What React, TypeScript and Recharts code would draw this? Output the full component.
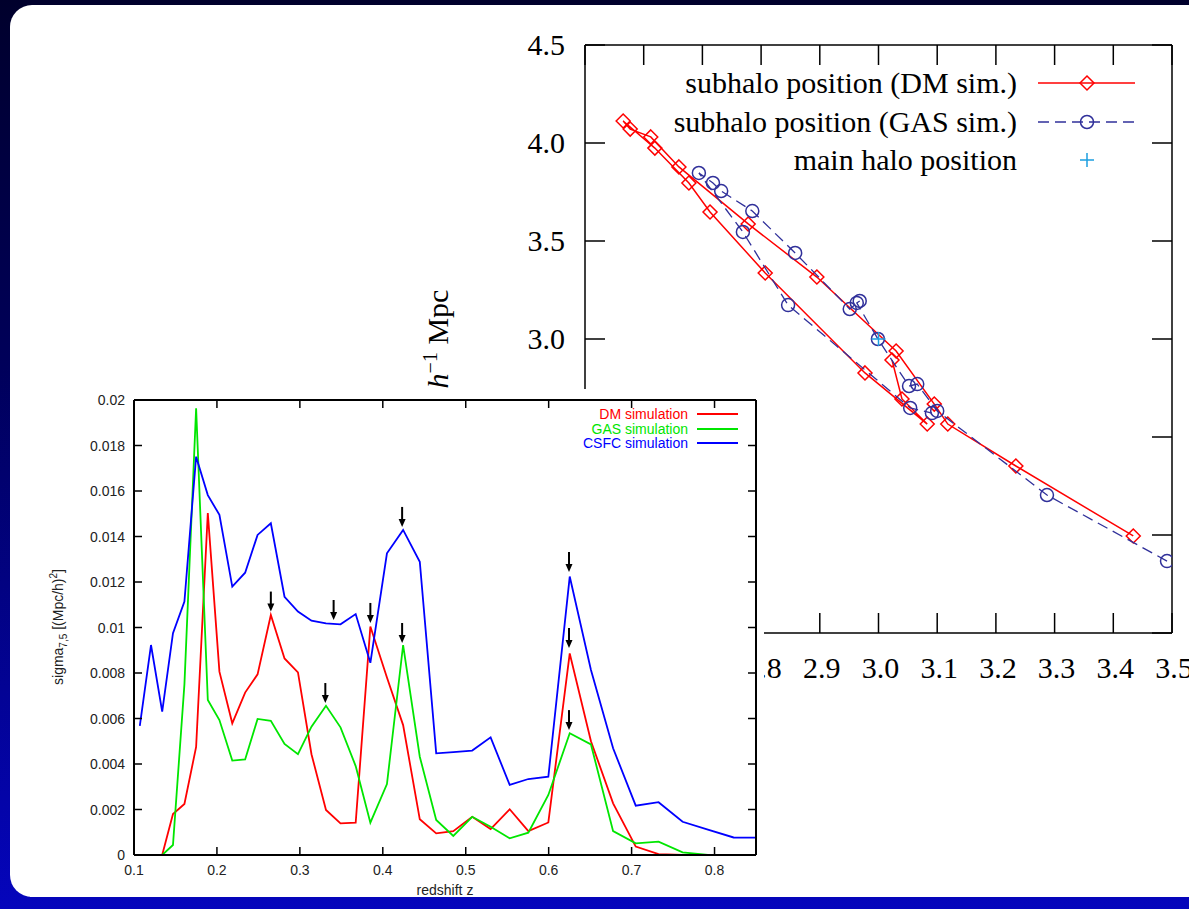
import {
  ComposedChart,
  Label,
  Legend,
  Line,
  Scatter,
  ScatterChart,
  XAxis,
  YAxis,
} from "recharts";

// lower panel: sigma_7,5 against redshift
const redshift = [
  0.107, 0.1205, 0.134, 0.147, 0.1608, 0.1749, 0.189, 0.203, 0.2185, 0.234, 0.249, 0.265, 0.2815,
  0.2977, 0.314, 0.3315, 0.349, 0.3673, 0.385, 0.405, 0.4245, 0.4446, 0.4644, 0.485, 0.5078, 0.53,
  0.553, 0.5755, 0.5996, 0.6254, 0.651, 0.6777, 0.705, 0.7325, 0.7615, 0.792, 0.823, 0.855,
];
const dmSigma = [
  0, 0, 0, 0.0018, 0.00224, 0.00475, 0.01503, 0.00806, 0.00579, 0.00714, 0.00794, 0.01055, 0.00864,
  0.00803, 0.00443, 0.00198, 0.00139, 0.00142, 0.01004, 0.0078, 0.00571, 0.00157, 0.00095, 0.00105,
  0.00168, 0.00114, 0.00201, 0.00105, 0.00143, 0.00886, 0.005, 0.00227, 0.00037, 0.00004, 0, 0, 0, 0,
];
const gasSigma = [
  0, 0, 0, 0.00044, 0.0075, 0.01964, 0.00681, 0.00593, 0.00415, 0.0042, 0.00598, 0.0059, 0.00488,
  0.00443, 0.00564, 0.00656, 0.00561, 0.00391, 0.00142, 0.00312, 0.00923, 0.00432, 0.00154, 0.00084,
  0.00168, 0.00124, 0.00073, 0.00098, 0.00264, 0.00535, 0.00486, 0.00105, 0.00051, 0.00059, 0.00012,
  0, 0, 0,
];
const csfcSigma = [
  0.00568, 0.00923, 0.0063, 0.00975, 0.01114, 0.01751, 0.01582, 0.01495, 0.0118, 0.01241, 0.01407,
  0.01458, 0.01135, 0.0107, 0.0103, 0.01018, 0.01014, 0.01059, 0.00845, 0.01326, 0.01429, 0.01289,
  0.00447, 0.00452, 0.00459, 0.00517, 0.00308, 0.00334, 0.00344, 0.01224, 0.00813, 0.00469, 0.00217,
  0.00232, 0.00146, 0.00112, 0.00077, 0.00076,
];
const zTicks = [0.1, 0.2, 0.3, 0.4, 0.5, 0.6, 0.7, 0.8];
const sigmaTicks = [0, 0.002, 0.004, 0.006, 0.008, 0.01, 0.012, 0.014, 0.016, 0.018, 0.02];
// arrow tips marking the peaks
const arrowZ = [0.265, 0.3407, 0.385, 0.3307, 0.4233, 0.4233, 0.6245, 0.6245, 0.6245];
const arrowSigma = [0.0107, 0.01033, 0.0102, 0.00668, 0.01442, 0.00932, 0.01244, 0.0091, 0.00549];

// upper panel: subhalo track
const dmTrackX = [
  3.434, 3.234, 3.118, 3.095, 3.03, 2.895, 2.778, 2.66, 2.612, 2.577, 2.565, 2.619, 2.677, 2.713,
  2.807, 2.977, 3.083, 3.04, 3.023,
];
const dmTrackY = [
  1.995, 2.352, 2.566, 2.668, 2.939, 3.316, 3.587, 3.878, 4.031, 4.071, 4.112, 3.974, 3.796, 3.648,
  3.337, 2.827, 2.566, 2.694, 2.893,
];
const gasTrackX = [
  3.4915, 3.287, 3.1, 3.066, 3.052, 2.999, 2.963, 2.968, 2.951, 2.858, 2.785, 2.732, 2.718, 2.694,
  2.769, 2.846, 3.054, 3.091,
];
const gasTrackY = [
  1.867, 2.204, 2.633, 2.77, 2.76, 3.0, 3.184, 3.194, 3.153, 3.439, 3.653, 3.755, 3.796, 3.847,
  3.546, 3.173, 2.648, 2.622,
];
const mainHaloX = [3.0];
const mainHaloY = [3.0];
const posXTicks = [2.5, 2.6, 2.7, 2.8, 2.9, 3.0, 3.1, 3.2, 3.3, 3.4, 3.5];
const posYTicks = [1.5, 2.0, 2.5, 3.0, 3.5, 4.0, 4.5];

const sigmaRows = redshift.map((z, i) => ({ z, dm: dmSigma[i], gas: gasSigma[i], csfc: csfcSigma[i] }));
const arrows = arrowZ.map((z, i) => ({ z, s: arrowSigma[i] }));
const dmTrack = dmTrackX.map((x, i) => ({ x, y: dmTrackY[i] }));
const gasTrack = gasTrackX.map((x, i) => ({ x, y: gasTrackY[i] }));
const mainHalo = mainHaloX.map((x, i) => ({ x, y: mainHaloY[i] }));

const SERIF = '"Liberation Serif", "Times New Roman", serif';
const SANS = '"Liberation Sans", Arial, Helvetica, sans-serif';
const RED = "#ff0000";
const GREEN = "#00e600";
const BLUE = "#0000ff";
const NAVY = "#30309a";
const CYAN = "#1d9fe0";

// plot boxes (svg-relative) so inward ticks can be mirrored on the far sides
const UP = { w: 860, h: 700, top: 45, right: 68, bottom: 67, left: 205, tick: 20 };
const LOW = { w: 734, h: 508, top: 11, right: 8, bottom: 42, left: 104, tick: 8 };

const Diamond = ({ cx, cy }: any) => (
  <path d={`M${cx},${cy - 7}L${cx + 7},${cy}L${cx},${cy + 7}L${cx - 7},${cy}Z`} fill="none" stroke={RED} strokeWidth={1.5} />
);
const Ring = ({ cx, cy }: any) => <circle cx={cx} cy={cy} r={6.5} fill="none" stroke={NAVY} strokeWidth={1.5} />;
const Plus = ({ cx, cy }: any) => (
  <path d={`M${cx - 7},${cy}H${cx + 7}M${cx},${cy - 7}V${cy + 7}`} stroke={CYAN} strokeWidth={1.5} />
);
const Arrow = ({ cx, cy }: any) => (
  <g>
    <line x1={cx} x2={cx} y1={cy - 20} y2={cy - 5} stroke="#000" strokeWidth={2} />
    <path d={`M${cx - 3.5},${cy - 8}L${cx + 3.5},${cy - 8}L${cx},${cy}Z`} fill="#000" />
  </g>
);

const PosXTick = ({ x, y, payload }: any) => {
  const base = y + UP.tick;
  return (
    <g>
      <line x1={x} x2={x} y1={base} y2={base - UP.tick} stroke="#000" strokeWidth={1.5} />
      <line x1={x} x2={x} y1={UP.top} y2={UP.top + UP.tick} stroke="#000" strokeWidth={1.5} />
      <text x={x + 2} y={base + 45} textAnchor="middle" fontFamily={SERIF} fontSize={30} fill="#000">
        {Number(payload.value).toFixed(1)}
      </text>
    </g>
  );
};
const PosYTick = ({ x, y, payload }: any) => {
  const base = x - UP.tick;
  const far = UP.w - UP.right;
  return (
    <g>
      <line x1={base} x2={base + UP.tick} y1={y} y2={y} stroke="#000" strokeWidth={1.5} />
      <line x1={far - UP.tick} x2={far} y1={y} y2={y} stroke="#000" strokeWidth={1.5} />
      <text x={base - 20} y={y + 10} textAnchor="end" fontFamily={SERIF} fontSize={30} fill="#000">
        {Number(payload.value).toFixed(1)}
      </text>
    </g>
  );
};
const ZTick = ({ x, y, payload }: any) => {
  const base = y + LOW.tick;
  return (
    <g>
      <line x1={x} x2={x} y1={base} y2={base - LOW.tick} stroke="#000" strokeWidth={1.5} />
      <line x1={x} x2={x} y1={LOW.top} y2={LOW.top + LOW.tick} stroke="#000" strokeWidth={1.5} />
      <text x={x} y={base + 20} textAnchor="middle" fontFamily={SANS} fontSize={14} fill="#222">
        {Number(payload.value).toFixed(1)}
      </text>
    </g>
  );
};
const SigmaTick = ({ x, y, payload }: any) => {
  const base = x - LOW.tick;
  const far = LOW.w - LOW.right;
  return (
    <g>
      <line x1={base} x2={base + LOW.tick} y1={y} y2={y} stroke="#000" strokeWidth={1.5} />
      <line x1={far - LOW.tick} x2={far} y1={y} y2={y} stroke="#000" strokeWidth={1.5} />
      <text x={base - 9} y={y + 5} textAnchor="end" fontFamily={SANS} fontSize={14} fill="#222">
        {String(Number(Number(payload.value).toFixed(3)))}
      </text>
    </g>
  );
};

const trackLegend = [
  { label: "subhalo position (DM sim.)", kind: "dm" },
  { label: "subhalo position (GAS sim.)", kind: "gas" },
  { label: "main halo position", kind: "halo" },
];
const TrackLegend = () => (
  <div style={{ fontFamily: SERIF, fontSize: 30, color: "#000" }}>
    {trackLegend.map((row) => (
      <div key={row.kind} style={{ display: "flex", alignItems: "center", height: 38.5 }}>
        <div style={{ width: 377, textAlign: "right", whiteSpace: "nowrap" }}>{row.label}</div>
        <svg width={98} height={38} style={{ marginLeft: 21 }}>
          {row.kind === "dm" && <line x1={0} x2={97} y1={19} y2={19} stroke={RED} strokeWidth={1.5} />}
          {row.kind === "dm" && <Diamond cx={49} cy={19} />}
          {row.kind === "gas" && <line x1={0} x2={97} y1={19} y2={19} stroke={NAVY} strokeWidth={1.3} strokeDasharray="11 6" />}
          {row.kind === "gas" && <Ring cx={49} cy={19} />}
          {row.kind === "halo" && <Plus cx={49} cy={19} />}
        </svg>
      </div>
    ))}
  </div>
);

const sigmaLegend = [
  { label: "DM simulation", color: RED },
  { label: "GAS simulation", color: GREEN },
  { label: "CSFC simulation", color: BLUE },
];
const SigmaLegend = () => (
  <div style={{ fontFamily: SANS, fontSize: 14 }}>
    {sigmaLegend.map((row) => (
      <div key={row.label} style={{ display: "flex", alignItems: "center", height: 14.5 }}>
        <div style={{ width: 218, textAlign: "right", color: row.color, lineHeight: "14.5px" }}>{row.label}</div>
        <svg width={41} height={14} style={{ marginLeft: 9 }}>
          <line x1={0} x2={41} y1={7} y2={7} stroke={row.color} strokeWidth={1.8} />
        </svg>
      </div>
    ))}
  </div>
);

function TrackChart() {
  const axisStyle = { stroke: "#000", strokeWidth: 1.5 };
  return (
    <div style={{ position: "absolute", left: 380, top: 0 }}>
      <ScatterChart width={UP.w} height={UP.h} margin={{ top: UP.top, right: UP.right, bottom: UP.bottom, left: UP.left }}>
        <XAxis xAxisId="b" type="number" dataKey="x" domain={[2.5, 3.5]} ticks={posXTicks} interval={0}
          mirror tickSize={UP.tick} tickMargin={0} axisLine={axisStyle} tickLine={false} tick={PosXTick} allowDataOverflow />
        <XAxis xAxisId="t" orientation="top" type="number" domain={[2.5, 3.5]} ticks={posXTicks} interval={0}
          mirror axisLine={axisStyle} tickLine={false} tick={false} allowDataOverflow />
        <YAxis yAxisId="l" type="number" dataKey="y" domain={[1.5, 4.5]} ticks={posYTicks} interval={0}
          mirror tickSize={UP.tick} tickMargin={0} axisLine={axisStyle} tickLine={false} tick={PosYTick} allowDataOverflow>
          <Label
            content={() => (
              <text transform="rotate(-90 68 339)" x={68} y={339} textAnchor="middle" fontFamily={SERIF} fontSize={30} fill="#000">
                <tspan fontStyle="italic">h</tspan>
                <tspan dy={-11} fontSize={20}>−1</tspan>
                <tspan dy={11}> Mpc</tspan>
              </text>
            )}
          />
        </YAxis>
        <YAxis yAxisId="r" orientation="right" type="number" domain={[1.5, 4.5]} ticks={posYTicks} interval={0}
          mirror axisLine={axisStyle} tickLine={false} tick={false} allowDataOverflow />
        <Legend layout="vertical" align="center" verticalAlign="middle" content={TrackLegend}
          wrapperStyle={{ left: 260, top: 64, width: 500, height: 120 }} />
        <Scatter xAxisId="b" yAxisId="l" name="subhalo position (DM sim.)" data={dmTrack} shape={Diamond}
          line={{ stroke: RED, strokeWidth: 1.5 }} lineType="joint" isAnimationActive={false} />
        <Scatter xAxisId="b" yAxisId="l" name="subhalo position (GAS sim.)" data={gasTrack} shape={Ring}
          line={{ stroke: NAVY, strokeWidth: 1.3, strokeDasharray: "11 6" }} lineType="joint" isAnimationActive={false} />
        <Scatter xAxisId="b" yAxisId="l" name="main halo position" data={mainHalo} shape={Plus} isAnimationActive={false} />
      </ScatterChart>
    </div>
  );
}

function SigmaChart() {
  const axisStyle = { stroke: "#000", strokeWidth: 2 };
  return (
    <div style={{ position: "absolute", left: 30, top: 389, width: LOW.w, height: LOW.h, background: "#fff" }}>
      <ComposedChart width={LOW.w} height={LOW.h} data={sigmaRows}
        margin={{ top: LOW.top, right: LOW.right, bottom: LOW.bottom, left: LOW.left }}>
        <XAxis xAxisId="b" type="number" dataKey="z" domain={[0.1, 0.85]} ticks={zTicks} interval={0}
          mirror tickSize={LOW.tick} tickMargin={0} axisLine={axisStyle} tickLine={false} tick={ZTick} allowDataOverflow>
          <Label
            content={() => (
              <text x={415} y={506} textAnchor="middle" fontFamily={SANS} fontSize={14} fill="#222">
                redshift z
              </text>
            )}
          />
        </XAxis>
        <XAxis xAxisId="t" orientation="top" type="number" domain={[0.1, 0.85]} ticks={zTicks} interval={0}
          mirror axisLine={axisStyle} tickLine={false} tick={false} allowDataOverflow />
        <YAxis yAxisId="l" type="number" domain={[0, 0.02]} ticks={sigmaTicks} interval={0}
          mirror tickSize={LOW.tick} tickMargin={0} axisLine={axisStyle} tickLine={false} tick={SigmaTick} allowDataOverflow>
          <Label
            content={() => (
              <text transform="rotate(-90 33 238)" x={33} y={238} textAnchor="middle" fontFamily={SANS} fontSize={14} fill="#222">
                sigma
                <tspan dy={4} fontSize={10}>7,5</tspan>
                <tspan dy={-4}> [(Mpc/h)</tspan>
                <tspan dy={-6} fontSize={10}>2</tspan>
                <tspan dy={6}>]</tspan>
              </text>
            )}
          />
        </YAxis>
        <YAxis yAxisId="r" orientation="right" type="number" domain={[0, 0.02]} ticks={sigmaTicks} interval={0}
          mirror axisLine={axisStyle} tickLine={false} tick={false} allowDataOverflow />
        <Legend layout="vertical" align="center" verticalAlign="middle" content={SigmaLegend}
          wrapperStyle={{ left: 440, top: 18, width: 270, height: 44 }} />
        <Line xAxisId="b" yAxisId="l" type="linear" dataKey="dm" name="DM simulation" stroke={RED} strokeWidth={1.8} dot={false} isAnimationActive={false} />
        <Line xAxisId="b" yAxisId="l" type="linear" dataKey="gas" name="GAS simulation" stroke={GREEN} strokeWidth={1.8} dot={false} isAnimationActive={false} />
        <Line xAxisId="b" yAxisId="l" type="linear" dataKey="csfc" name="CSFC simulation" stroke={BLUE} strokeWidth={1.8} dot={false} isAnimationActive={false} />
        <Scatter xAxisId="b" yAxisId="l" data={arrows} dataKey="s" shape={Arrow} legendType="none" isAnimationActive={false} />
      </ComposedChart>
    </div>
  );
}

export default function App() {
  return (
    <div
      style={{
        position: "fixed",
        left: 0,
        top: 0,
        width: 1189,
        height: 909,
        overflow: "hidden",
        background: "linear-gradient(180deg, #00002c 0%, #00005a 40%, #0505bc 100%)",
      }}
    >
      <div style={{ position: "absolute", left: 10, top: 5, width: 1300, height: 892, borderRadius: 22, background: "#fff" }} />
      <TrackChart />
      <SigmaChart />
    </div>
  );
}
